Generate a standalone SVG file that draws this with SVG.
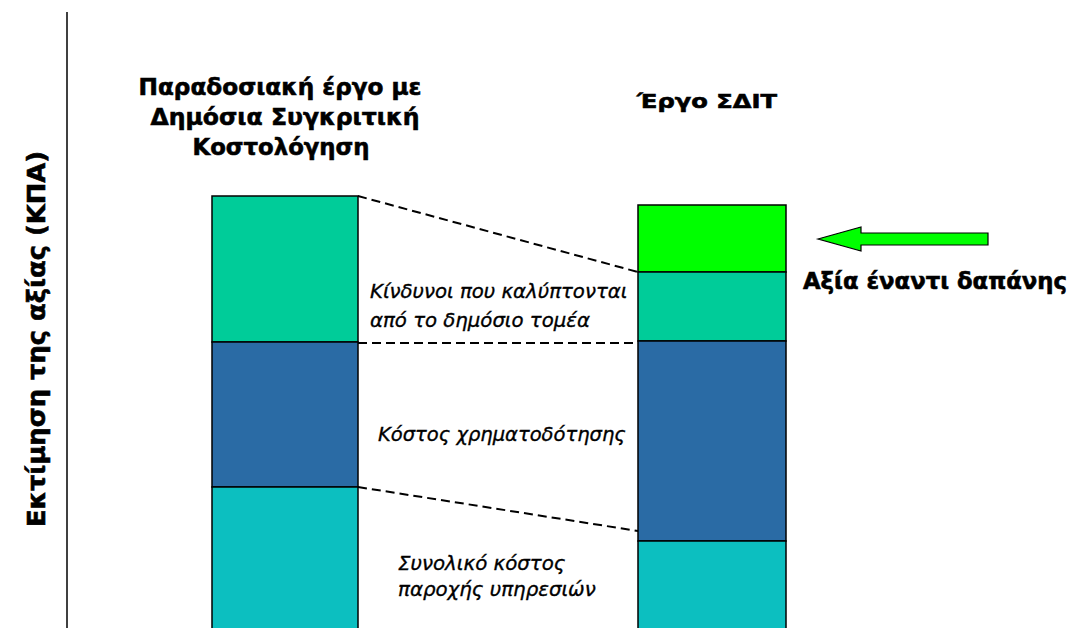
<svg xmlns="http://www.w3.org/2000/svg" width="1073" height="628" viewBox="0 0 1073 628">
<style>
.bar{stroke:#000;stroke-width:1.5}
.title{font-family:"DejaVu Sans","Liberation Sans",sans-serif;font-weight:bold;fill:#000;text-anchor:middle;stroke:#000;stroke-width:0.6}
.lbl{font-family:"DejaVu Sans","Liberation Sans",sans-serif;font-style:italic;fill:#000;stroke:#000;stroke-width:0.35}
.dash{stroke:#000;stroke-width:2;stroke-dasharray:9 5;fill:none}
</style>
<rect width="1073" height="628" fill="#fff"/>
<g id="axis">
<line x1="67" y1="12" x2="67" y2="628" stroke="#000" stroke-width="1.5"/>
<text class="title" font-size="24" transform="translate(45,339) rotate(-90)" textLength="376" lengthAdjust="spacingAndGlyphs">Εκτίμηση της αξίας (ΚΠΑ)</text>
</g>
<g id="left-bar">
<rect class="bar" x="212" y="196" width="146" height="146" fill="#00CC99"/>
<rect class="bar" x="212" y="342" width="146" height="145" fill="#2A6BA5"/>
<rect class="bar" x="212" y="487" width="146" height="145" fill="#0CBFC0"/>
<text class="title" font-size="23.5"><tspan x="280" y="95" textLength="283" lengthAdjust="spacingAndGlyphs">Παραδοσιακή έργο με</tspan><tspan x="285" y="125" textLength="269" lengthAdjust="spacingAndGlyphs">Δημόσια Συγκριτική</tspan><tspan x="281" y="155" textLength="177" lengthAdjust="spacingAndGlyphs">Κοστολόγηση</tspan></text>
</g>
<g id="right-bar">
<rect class="bar" x="638" y="205" width="148" height="67" fill="#00FF00"/>
<rect class="bar" x="638" y="272" width="148" height="69" fill="#00CC99"/>
<rect class="bar" x="638" y="341" width="148" height="200" fill="#2A6BA5"/>
<rect class="bar" x="638" y="541" width="148" height="91" fill="#0CBFC0"/>
<text class="title" font-size="20" x="707" y="108" textLength="140" lengthAdjust="spacingAndGlyphs">Έργο ΣΔΙΤ</text>
</g>
<g id="value-arrow">
<polygon points="818,239 861,227 861,233 988,233 988,245 861,245 861,251" fill="#00FF00" stroke="#000" stroke-width="1.2"/>
<text class="title" font-size="23" x="935" y="289" textLength="264" lengthAdjust="spacingAndGlyphs">Αξία έναντι δαπάνης</text>
</g>
<g id="connectors">
<line class="dash" x1="358" y1="196" x2="638" y2="272"/>
<line class="dash" x1="358" y1="343" x2="638" y2="343"/>
<line class="dash" x1="358" y1="487" x2="638" y2="531"/>
</g>
<g id="labels">
<text class="lbl" font-size="19.7"><tspan x="370" y="298">Κίνδυνοι που καλύπτονται</tspan><tspan x="370" y="327">από το δημόσιο τομέα</tspan></text>
<text class="lbl" font-size="19.5" x="378" y="441">Κόστος χρηματοδότησης</text>
<text class="lbl" font-size="19.8"><tspan x="398" y="570">Συνολικό κόστος</tspan><tspan x="398" y="596">παροχής υπηρεσιών</tspan></text>
</g>
</svg>
